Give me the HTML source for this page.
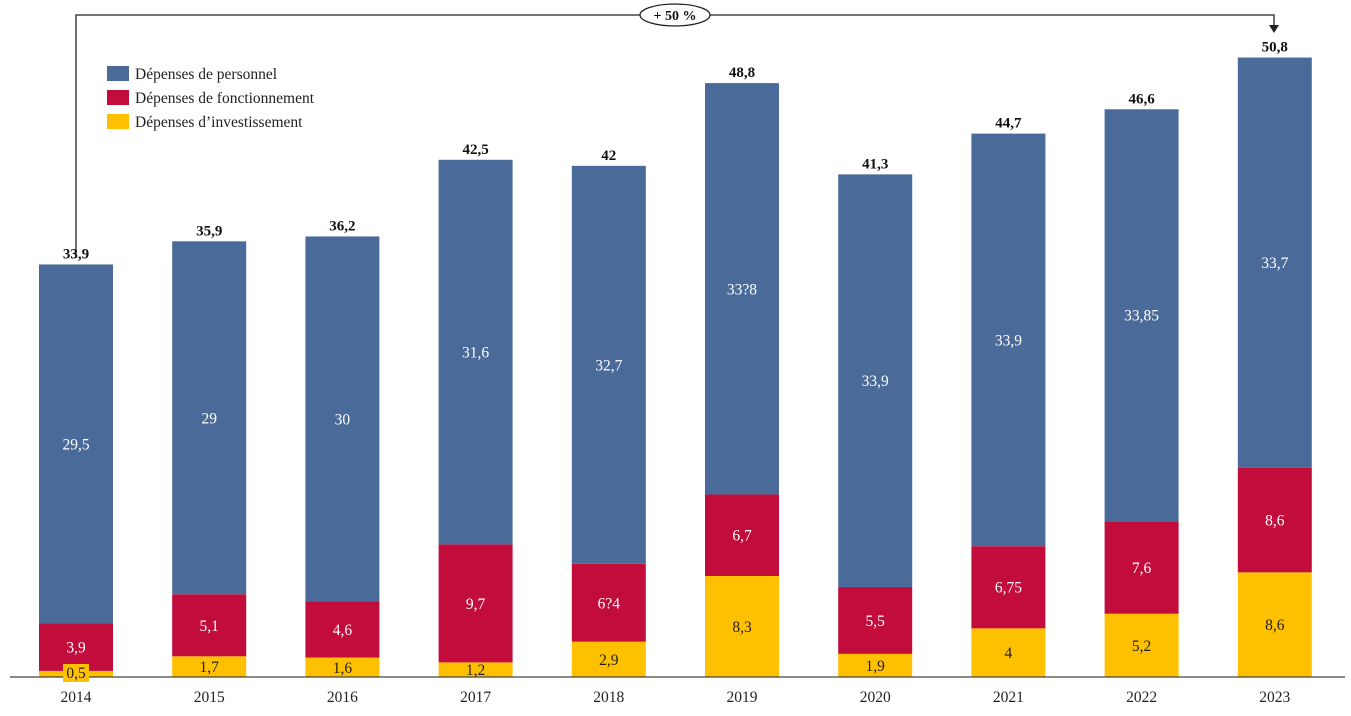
<!DOCTYPE html>
<html><head><meta charset="utf-8"><style>
html,body{margin:0;padding:0;background:#fff;}
svg{display:block;font-family:"Liberation Serif",serif;}
</style></head><body>
<svg id="chart" width="1351" height="716" viewBox="0 0 1351 716">
<g id="legend">
<rect x="107" y="66" width="22" height="15" fill="#4a6a9a"/>
<text x="135" y="79" font-size="15.5" fill="#222">Dépenses de personnel</text>
<rect x="107" y="90" width="22" height="15" fill="#c20d3c"/>
<text x="135" y="103" font-size="15.5" fill="#222">Dépenses de fonctionnement</text>
<rect x="107" y="114" width="22" height="15" fill="#ffc000"/>
<text x="135" y="127" font-size="15.5" fill="#222">Dépenses d’investissement</text>
</g>
<g id="arrow">
<polyline points="76,258 76,15 1274,15 1274,26" fill="none" stroke="#222" stroke-width="1.3"/>
<polygon points="1269,25 1279,25 1274,33" fill="#222"/>
<ellipse cx="675" cy="15" rx="35" ry="11" fill="#fff" stroke="#222" stroke-width="1.3"/>
<text x="675" y="20" font-size="14" font-weight="bold" text-anchor="middle" fill="#111">+ 50 %</text>
</g>
<g id="bars"></g>
<line x1="10" y1="677" x2="1345" y2="677" stroke="#444" stroke-width="1.3"/>
<g id="labels"></g>
<g id="xlabels"></g>
</svg>
<script>
const years = ["2014","2015","2016","2017","2018","2019","2020","2021","2022","2023"];
const personnel = [29.5,29,30,31.6,32.7,33.8,33.9,33.9,33.85,33.7];
const fonctionnement = [3.9,5.1,4.6,9.7,6.4,6.7,5.5,6.75,7.6,8.6];
const investissement = [0.5,1.7,1.6,1.2,2.9,8.3,1.9,4,5.2,8.6];
const personnelLabels = ["29,5","29","30","31,6","32,7","33?8","33,9","33,9","33,85","33,7"];
const fonctionnementLabels = ["3,9","5,1","4,6","9,7","6?4","6,7","5,5","6,75","7,6","8,6"];
const investissementLabels = ["0,5","1,7","1,6","1,2","2,9","8,3","1,9","4","5,2","8,6"];
const totalLabels = ["33,9","35,9","36,2","42,5","42","48,8","41,3","44,7","46,6","50,8"];

const NS = "http://www.w3.org/2000/svg";
const baseY = 677, pxPerUnit = 12.17, x0 = 39, step = 133.2, bw = 74;
const xPos = i => x0 + i * step;
const yH = v => v * pxPerUnit;
const barsG = document.getElementById("bars");
const labG = document.getElementById("labels");
const xl = document.getElementById("xlabels");
function mk(tag, attrs, parent){const e=document.createElementNS(NS,tag);for(const k in attrs)e.setAttribute(k,attrs[k]);parent.appendChild(e);return e;}

years.forEach((yr,i)=>{
  const x = xPos(i);
  const series = [
    {v:investissement[i], c:"#ffc000", t:"#222", lab:investissementLabels[i], n:"investissement"},
    {v:fonctionnement[i], c:"#c20d3c", t:"#fff", lab:fonctionnementLabels[i], n:"fonctionnement"},
    {v:personnel[i], c:"#4a6a9a", t:"#fff", lab:personnelLabels[i], n:"personnel"}
  ];
  let y = baseY;
  series.forEach(s=>{
    const h = yH(s.v);
    y -= h;
    const r = mk("rect",{x:x,y:y,width:bw,height:h,fill:s.c},barsG);
    
    
    let ly = y + h/2 + 5.5;
    if (h < 14) {
      const bg = mk("rect",{x:x+bw/2-13,y:baseY-13,width:26,height:18,fill:s.c},labG);
      
      
      ly = baseY + 1;
    }
    const t = mk("text",{x:x+bw/2,y:ly,"font-size":"15.5","text-anchor":"middle",fill:s.t},labG);
    t.textContent = s.lab;
    
    
  });
  const tt = mk("text",{x:x+bw/2,y:y-6,"font-size":"15","font-weight":"bold","text-anchor":"middle",fill:"#111"},labG);
  tt.textContent = totalLabels[i];
  
  
  const yl = mk("text",{x:x+bw/2,y:702,"font-size":"15.5","text-anchor":"middle",fill:"#222"},xl);
  yl.textContent = yr;
  
  
});
</script>
</body></html>
